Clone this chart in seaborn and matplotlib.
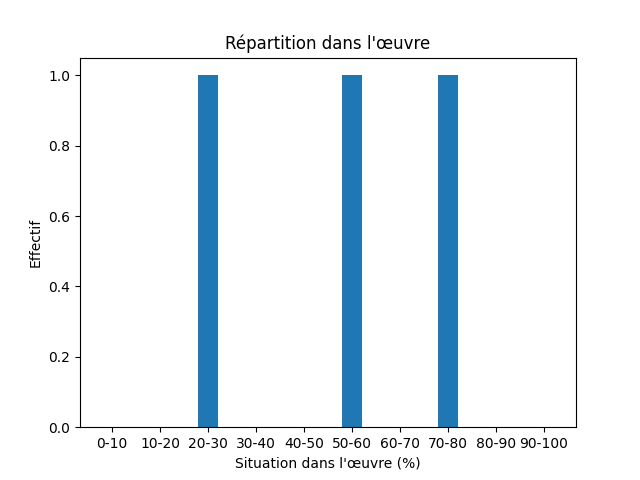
import matplotlib
matplotlib.use("Agg")
from matplotlib import pyplot as plt
import seaborn as sns
import pandas as pd

categories = ["0-10", "10-20", "20-30", "30-40", "40-50",
              "50-60", "60-70", "70-80", "80-90", "90-100"]
counts = [0, 0, 1, 0, 0, 1, 0, 1, 0, 0]

df = pd.DataFrame({"tranche": categories, "effectif": counts})

fig, ax = plt.subplots(figsize=(6.4, 4.8), dpi=100)
sns.barplot(data=df, x="tranche", y="effectif", color="#1f77b4",
            saturation=1, width=0.4, ax=ax)
ax.set_xlim(-0.67, len(categories) - 1 + 0.67)
ax.set_ylim(0, 1.05)
ax.set_title("Répartition dans l'œuvre")
ax.set_xlabel("Situation dans l'œuvre (%)")
ax.set_ylabel("Effectif")
plt.savefig("out.png")
